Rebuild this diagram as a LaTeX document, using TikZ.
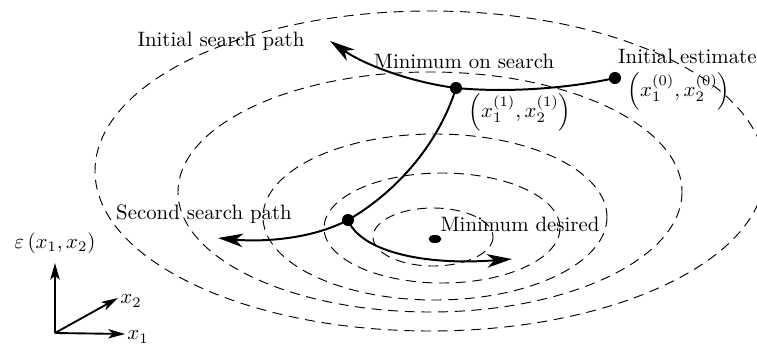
\documentclass[tikz,border=0pt]{standalone}
\usetikzlibrary{arrows.meta,shapes.geometric}
\begin{document}
\begin{tikzpicture}[x=0.48pt,y=-0.48pt,
  contour/.style={draw, line width=0.45pt, dash pattern=on 4.8pt off 3.2pt},
  pathline/.style={line width=0.95pt},
  bigarrow/.style={pathline, -{Stealth[length=12pt,width=6.5pt,inset=3.5pt]}},
  axisarrow/.style={line width=0.9pt, -{Stealth[length=8pt,width=4.5pt,inset=2pt]}},
  dot/.style={circle, fill=black, inner sep=0pt, minimum size=5.8pt},
  lbl/.style={inner sep=0pt, font=\normalsize}]
\useasboundingbox (0,0) rectangle (757,345);
\clip (0,0) rectangle (757,345);
% contours
\draw[contour] (430,171) ellipse [x radius=335, y radius=160];
\draw[contour] (430,192) ellipse [x radius=252, y radius=120];
\draw[contour] (435,217) ellipse [x radius=172, y radius=83];
\draw[contour] (442,228) ellipse [x radius=118, y radius=55];
\draw[contour] (433,237) ellipse [x radius=60, y radius=29];
% points
\node[dot] (init) at (615,78) {};
\node[dot] (min1) at (456,88) {};
\node[dot] (min2) at (348,220) {};
\node[ellipse, fill=black, inner sep=0pt, minimum width=6.2pt, minimum height=3.9pt] (goal) at (435,239) {};
\coordinate (tipA) at (330,41);
\coordinate (tipB) at (218,238);
\coordinate (tipC) at (512,259);
% paths
\draw[pathline] (init.center) .. controls (570,88) and (510,93) .. (min1.center);
\draw[bigarrow] (min1.center) .. controls (410,82) and (365,65) .. (tipA);
\draw[pathline] (min1.center) .. controls (440,140) and (400,190) .. (min2.center);
\draw[bigarrow] (min2.center) .. controls (310,240) and (260,242) .. (tipB);
\draw[bigarrow] (min2.center) .. controls (360,250) and (420,266) .. (tipC);
% labels
\node[lbl] (tA) at (221,41) {Initial search path};
\node[lbl] (tM) at (464,61) {Minimum on search};
\node[lbl, anchor=east] (tI) at (757,56) {Initial estimate};
\node[lbl] (c0) at (679,91) {$\left(x_1^{(0)},x_2^{(0)}\right)$};
\node[lbl] (c1) at (520,112) {$\left(x_1^{(1)},x_2^{(1)}\right)$};
\node[lbl] (tB) at (204,214) {Second search path};
\node[lbl] (tD) at (520,224) {Minimum desired};
% axes
\coordinate (O) at (55,333);
\coordinate (ez) at (55,263);
\coordinate (ex1) at (125,334);
\coordinate (ex2) at (118,298);
\draw[axisarrow] (O) -- (ez);
\draw[axisarrow] (O) -- (ex1);
\draw[axisarrow] (O) -- (ex2);
\node[lbl] (le) at (55,243) {$\varepsilon\left(x_1,x_2\right)$};
\node[lbl, anchor=west] (l2) at (120,301) {$x_2$};
\node[lbl, anchor=west] (l1) at (127,337) {$x_1$};
\end{tikzpicture}
\end{document}
